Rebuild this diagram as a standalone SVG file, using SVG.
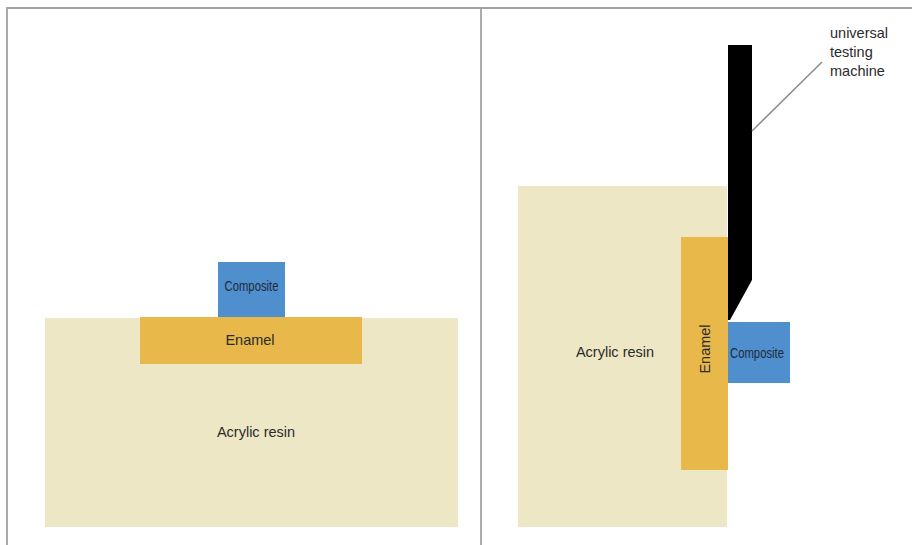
<svg xmlns="http://www.w3.org/2000/svg" width="912" height="545" viewBox="0 0 912 545">
  <style>
    .frame { fill: none; stroke: #a3a3a3; stroke-width: 1.8; }
    .resin { fill: #ede7c5; }
    .enamel { fill: #e8b84a; }
    .composite { fill: #4f8fcd; }
    .lbl { font-family: "Liberation Sans", Arial, sans-serif; font-size: 14.5px; fill: #2b2b2b; }
    .narrow { font-family: "Liberation Sans Narrow", "Liberation Sans", Arial, sans-serif; font-size: 15px; fill: #1f2a3a; }
  </style>

  <!-- panel frame -->
  <g id="frame">
    <polyline class="frame" points="7,545 7,8 912,8"/>
    <line class="frame" x1="481" y1="8" x2="481" y2="545" stroke="#8a8a8a"/>
  </g>

  <!-- left panel: specimen seen from the side -->
  <g id="left-resin">
    <rect class="resin" x="45" y="318" width="413" height="209"/>
    <text class="lbl" x="256" y="437" text-anchor="middle">Acrylic resin</text>
  </g>
  <g id="left-enamel">
    <rect class="enamel" x="140" y="317" width="222" height="47"/>
    <text class="lbl" x="250" y="345" text-anchor="middle">Enamel</text>
  </g>
  <g id="left-composite">
    <rect class="composite" x="218" y="262" width="67" height="55"/>
    <text class="narrow" x="251.5" y="290.5" text-anchor="middle" textLength="54" lengthAdjust="spacingAndGlyphs">Composite</text>
  </g>

  <!-- right panel: specimen under the shear blade -->
  <g id="right-resin">
    <rect class="resin" x="518" y="186" width="209" height="341"/>
    <text class="lbl" x="615" y="357" text-anchor="middle">Acrylic resin</text>
  </g>
  <g id="right-enamel">
    <rect class="enamel" x="681" y="237" width="47" height="233"/>
    <text class="lbl" transform="translate(710,349) rotate(-90)" text-anchor="middle">Enamel</text>
  </g>
  <g id="right-composite">
    <rect class="composite" x="728" y="322" width="62" height="61"/>
    <text class="narrow" x="757" y="357.5" text-anchor="middle" textLength="54" lengthAdjust="spacingAndGlyphs">Composite</text>
  </g>
  <g id="machine">
    <polygon fill="#000" points="728,45 752,45 752,280 730,320 728,320"/>
    <text class="lbl" x="830" y="38">universal</text>
    <text class="lbl" x="830" y="57">testing</text>
    <text class="lbl" x="830" y="76">machine</text>
  </g>

  <g id="connectors">
    <line x1="752" y1="131" x2="822" y2="62" stroke="#8c8c8c" stroke-width="1.5"/>
  </g>
</svg>
